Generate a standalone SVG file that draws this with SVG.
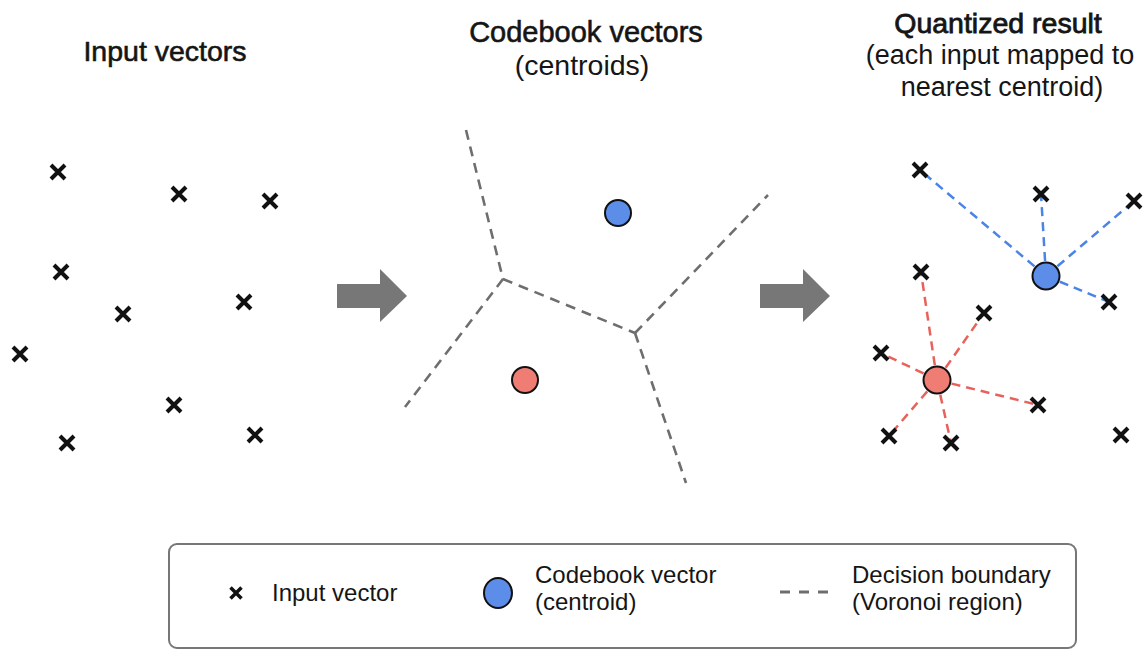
<svg xmlns="http://www.w3.org/2000/svg" xmlns:xlink="http://www.w3.org/1999/xlink" width="1148" height="651" viewBox="0 0 1148 651">
<style>
.t{font-family:"Liberation Sans",Arial,sans-serif;fill:#151515}
.h{font-size:28.5px;stroke:#151515;stroke-width:0.6}
.s{font-size:27px}
.lg{font-size:24px}
.x{stroke:#111;stroke-width:4;fill:none}
.bd{stroke:#6e6e6e;stroke-width:2.6;stroke-dasharray:10 7;fill:none}
.lb{stroke:#4a84e6;stroke-width:2.5;stroke-dasharray:9 6;fill:none}
.lr{stroke:#e8625c;stroke-width:2.5;stroke-dasharray:9 6;fill:none}
.cb{fill:#5b8de9;stroke:#111;stroke-width:2}
.cr{fill:#ef7d74;stroke:#111;stroke-width:2}
.ar{fill:#777}
</style>
<defs>
<path id="cross" d="M-7,-7 L7,7 M7,-7 L-7,7" class="x"/>
<path id="crossS" d="M-5.5,-5.5 L5.5,5.5 M5.5,-5.5 L-5.5,5.5" stroke="#111" stroke-width="3.5" fill="none"/>
</defs>
<rect width="1148" height="651" fill="#ffffff"/>

<!-- titles -->
<g id="title-input"><text class="t h" x="165" y="61" text-anchor="middle">Input vectors</text></g>
<g id="title-codebook">
<text class="t h" x="586" y="42" style="font-size:29px" text-anchor="middle">Codebook vectors</text>
<text class="t s" x="582" y="75" style="font-size:28.5px" text-anchor="middle">(centroids)</text>
</g>
<g id="title-quantized">
<text class="t h" x="998" y="33" text-anchor="middle" style="stroke-width:0.8">Quantized result</text>
<text class="t s" x="1000" y="64" text-anchor="middle">(each input mapped to</text>
<text class="t s" x="1002" y="96" text-anchor="middle">nearest centroid)</text>
</g>

<!-- connectors: voronoi boundaries, arrows, assignment lines -->
<g id="connectors">
<line class="bd" x1="466" y1="130" x2="503" y2="279"/>
<line class="bd" x1="503" y1="279" x2="405" y2="407"/>
<line class="bd" x1="503" y1="279" x2="635" y2="333"/>
<line class="bd" x1="635" y1="333" x2="768" y2="195"/>
<line class="bd" x1="635" y1="333" x2="686" y2="483"/>
<path class="ar" d="M337,284 H380 V269 L407,296 L380,322 V308 H337 Z"/>
<path class="ar" d="M760,284 H803 V269 L830,296 L803,322 V308 H760 Z"/>
<line class="lb" x1="1046" y1="276" x2="920" y2="170"/>
<line class="lb" x1="1046" y1="276" x2="1041" y2="194"/>
<line class="lb" x1="1046" y1="276" x2="1134" y2="201"/>
<line class="lb" x1="1046" y1="276" x2="1109" y2="302"/>
<line class="lr" x1="937" y1="380" x2="921" y2="272"/>
<line class="lr" x1="937" y1="380" x2="984" y2="313"/>
<line class="lr" x1="937" y1="380" x2="881" y2="353"/>
<line class="lr" x1="937" y1="380" x2="1038" y2="405"/>
<line class="lr" x1="937" y1="380" x2="889" y2="436"/>
<line class="lr" x1="937" y1="380" x2="951" y2="443"/>
</g>

<!-- input vectors (left) -->
<g id="in1"><use xlink:href="#cross" x="58" y="172"/></g>
<g id="in2"><use xlink:href="#cross" x="179" y="194"/></g>
<g id="in3"><use xlink:href="#cross" x="270" y="201"/></g>
<g id="in4"><use xlink:href="#cross" x="61" y="272"/></g>
<g id="in5"><use xlink:href="#cross" x="244" y="302"/></g>
<g id="in6"><use xlink:href="#cross" x="123" y="314"/></g>
<g id="in7"><use xlink:href="#cross" x="20" y="354"/></g>
<g id="in8"><use xlink:href="#cross" x="174" y="405"/></g>
<g id="in9"><use xlink:href="#cross" x="67" y="443"/></g>
<g id="in10"><use xlink:href="#cross" x="255" y="435"/></g>

<!-- codebook vectors (middle) -->
<g id="cb-blue"><circle class="cb" cx="618" cy="213" r="13"/></g>
<g id="cb-red"><circle class="cr" cx="525" cy="380" r="13"/></g>

<!-- quantized result (right) -->
<g id="q1"><use xlink:href="#cross" x="920" y="170"/></g>
<g id="q2"><use xlink:href="#cross" x="1041" y="194"/></g>
<g id="q3"><use xlink:href="#cross" x="1134" y="201"/></g>
<g id="q4"><use xlink:href="#cross" x="1109" y="302"/></g>
<g id="q5"><use xlink:href="#cross" x="921" y="272"/></g>
<g id="q6"><use xlink:href="#cross" x="984" y="313"/></g>
<g id="q7"><use xlink:href="#cross" x="881" y="353"/></g>
<g id="q8"><use xlink:href="#cross" x="1038" y="405"/></g>
<g id="q9"><use xlink:href="#cross" x="889" y="436"/></g>
<g id="q10"><use xlink:href="#cross" x="951" y="443"/></g>
<g id="q11"><use xlink:href="#cross" x="1121" y="435"/></g>
<g id="qc-blue"><circle class="cb" cx="1046" cy="276" r="13.5"/></g>
<g id="qc-red"><circle class="cr" cx="937" cy="380" r="13.5"/></g>

<!-- legend -->
<g id="legend">
<rect x="169" y="544" width="907" height="104" rx="8" fill="#fff" stroke="#777" stroke-width="2"/>
<use xlink:href="#crossS" x="236" y="593"/>
<text class="t lg" x="272" y="601">Input vector</text>
<ellipse class="cb" cx="498" cy="593" rx="14" ry="15"/>
<text class="t lg" x="535" y="583">Codebook vector</text>
<text class="t lg" x="535" y="610">(centroid)</text>
<line class="bd" x1="780" y1="592" x2="830" y2="592" style="stroke-dasharray:10 9;stroke-width:3"/>
<text class="t lg" x="852" y="583">Decision boundary</text>
<text class="t lg" x="852" y="610">(Voronoi region)</text>
</g>
</svg>
